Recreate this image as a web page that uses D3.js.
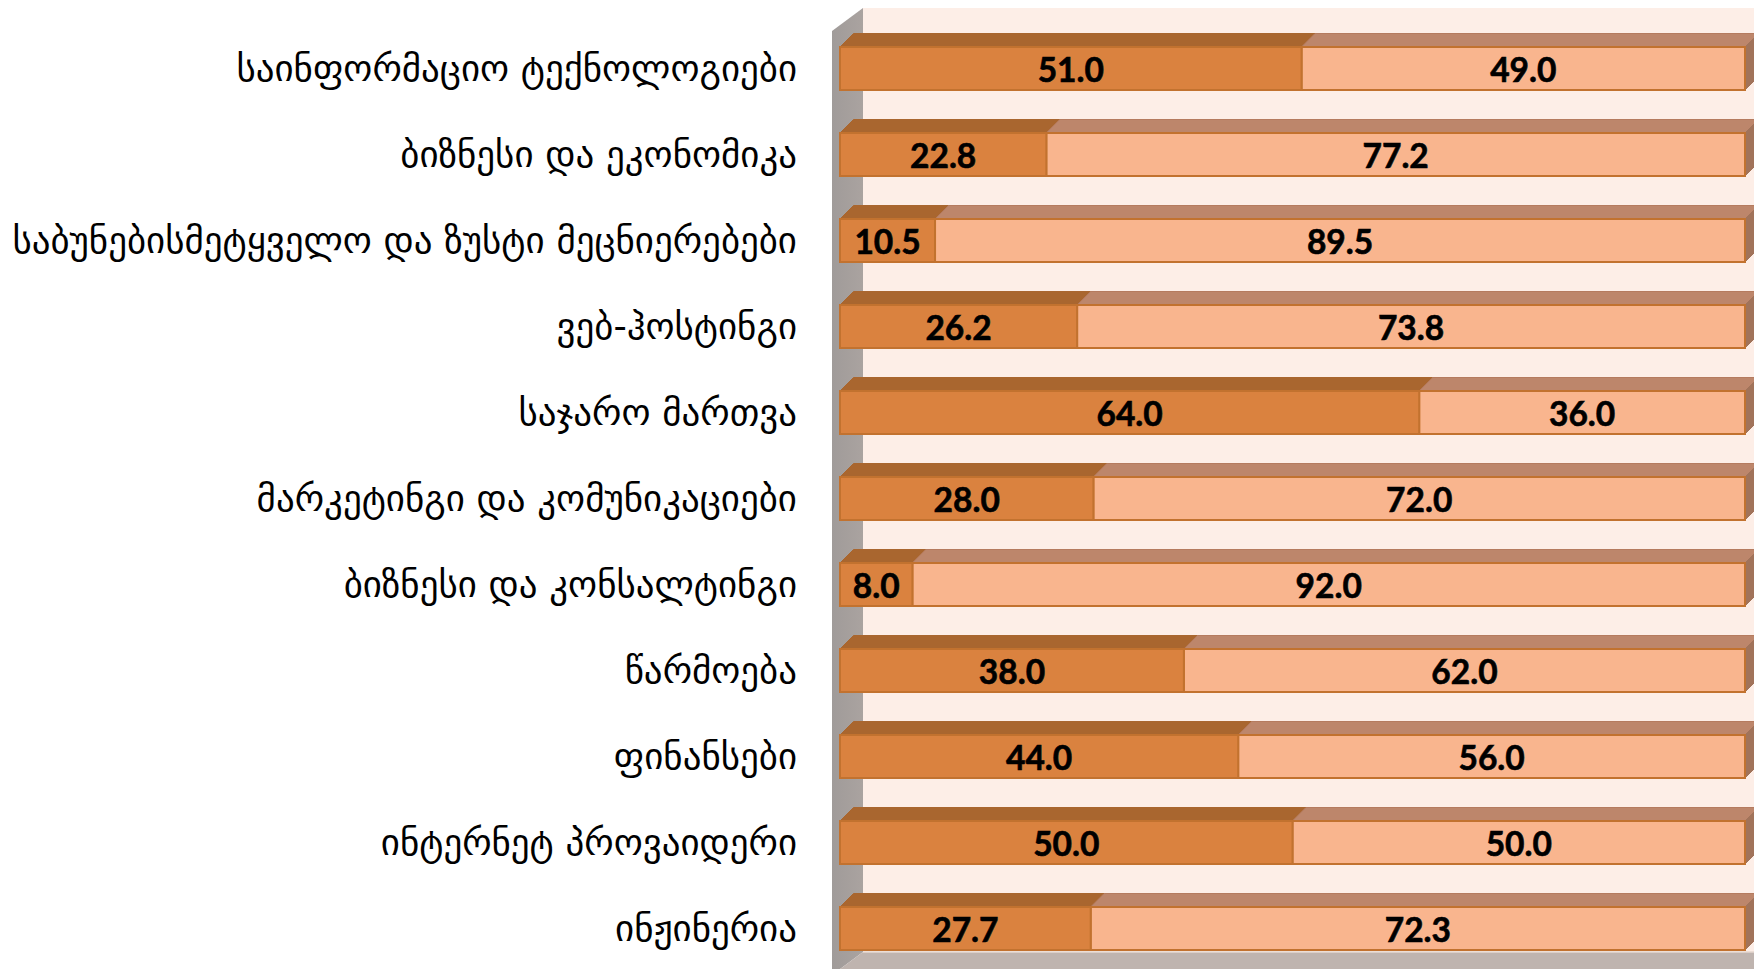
<!DOCTYPE html>
<html><head><meta charset="utf-8">
<script src="https://cdn.jsdelivr.net/npm/d3@7"></script>
<style>html,body{margin:0;padding:0;background:#fff;}svg{display:block;}</style>
</head><body>
<svg id="chart" width="1754" height="969"></svg>
<script>
const categories = [
  "საინფორმაციო ტექნოლოგიები",
  "ბიზნესი და ეკონომიკა",
  "საბუნებისმეტყველო და ზუსტი მეცნიერებები",
  "ვებ-ჰოსტინგი",
  "საჯარო მართვა",
  "მარკეტინგი და კომუნიკაციები",
  "ბიზნესი და კონსალტინგი",
  "წარმოება",
  "ფინანსები",
  "ინტერნეტ პროვაიდერი",
  "ინჟინერია"
];
const seriesA = [51.0, 22.8, 10.5, 26.2, 64.0, 28.0, 8.0, 38.0, 44.0, 50.0, 27.7];
const seriesB = [49.0, 77.2, 89.5, 73.8, 36.0, 72.0, 92.0, 62.0, 56.0, 50.0, 72.3];

const svg = d3.select("#chart");
const x = d3.scaleLinear().domain([0, 100]).range([840, 1745]);
const y = d3.scaleBand().domain(categories).range([25.5, 971.5]).paddingInner(0.5).paddingOuter(0.25);
const d = 13.5; // bar depth offset
const h = y.bandwidth();

// walls
const wallL = 832, wallBackX = 863, wallTop = 8, floorY = 952;
svg.append("polygon")
  .attr("points", `${wallBackX},${wallTop} 1754,${wallTop} 1754,${floorY} ${wallBackX},${floorY}`)
  .attr("fill", "#fdeee7");
const wg = svg.append("defs").append("linearGradient").attr("id", "wallg").attr("x1", 0).attr("x2", 1);
wg.append("stop").attr("offset", 0).attr("stop-color", "#a09b99");
wg.append("stop").attr("offset", 1).attr("stop-color", "#aaa3a0");
svg.append("polygon")
  .attr("points", `${wallL},${wallTop + 23} ${wallBackX},${wallTop} ${wallBackX},${floorY} ${wallL},${floorY + 23} ${wallL},969`)
  .attr("fill", "url(#wallg)");
svg.append("polygon")
  .attr("points", `${wallBackX},${floorY} 1754,${floorY} 1754,975 ${wallBackX - 31},975`)
  .attr("fill", "#bfb4af");
svg.append("line").attr("x1", wallBackX).attr("x2", 1754).attr("y1", floorY).attr("y2", floorY)
  .attr("stroke", "#e6d8d1").attr("stroke-width", 1.5);

const data = categories.map((c, i) => ({ c, a: seriesA[i], b: seriesB[i] }));
const g = svg.append("g");
const stroke = "#c2722f";

data.forEach(r => {
  const yt = y(r.c);
  const x0 = x(0), x1 = x(r.a), x2 = x(r.a + r.b);
  const bg = g.append("g");
  // top faces
  bg.append("polygon")
    .attr("points", `${x0},${yt} ${x0 + d},${yt - d} ${x1 + d},${yt - d} ${x1},${yt}`)
    .attr("fill", "#a9662f").attr("stroke", "#a9662f").attr("stroke-width", 1);
  bg.append("polygon")
    .attr("points", `${x1},${yt} ${x1 + d},${yt - d} ${x2 + d},${yt - d} ${x2},${yt}`)
    .attr("fill", "#bd866b").attr("stroke", "#b57b5f").attr("stroke-width", 1);
  // side face
  bg.append("polygon")
    .attr("points", `${x2},${yt} ${x2 + d},${yt - d} ${x2 + d},${yt + h - d} ${x2},${yt + h}`)
    .attr("fill", "#a1735a").attr("stroke", "#a1735a").attr("stroke-width", 1);
  // front faces
  bg.append("rect").attr("x", x1).attr("y", yt).attr("width", x2 - x1).attr("height", h)
    .attr("fill", "#f9b58e").attr("stroke", stroke).attr("stroke-width", 2);
  bg.append("rect").attr("x", x0).attr("y", yt).attr("width", x1 - x0).attr("height", h)
    .attr("fill", "#da823f").attr("stroke", stroke).attr("stroke-width", 2);
  // value labels
  [[x0, x1, r.a], [x1, x2, r.b]].forEach(([s, e, v]) => {
    bg.append("text").attr("x", (s + e) / 2).attr("y", yt + h / 2)
      .attr("text-anchor", "middle").attr("dominant-baseline", "central")
      .attr("font-family", "Lato, 'Open Sans', sans-serif").attr("font-weight", "bold")
      .attr("font-size", 33.5).attr("fill", "#000")
      .attr("stroke", "#000").attr("stroke-width", 0.6).text(d3.format(".1f")(v));
  });
});

// category labels
const labels = svg.append("g").selectAll("text").data(categories).join("text")
  .attr("x", 797).attr("y", c => y(c) + h / 2)
  .attr("text-anchor", "end").attr("dominant-baseline", "central")
  .attr("font-family", "'DejaVu Sans', sans-serif").attr("font-size", 100)
  .attr("fill", "#000").text(c => c);
let maxW = 0;
labels.each(function () { maxW = Math.max(maxW, this.getComputedTextLength()); });
labels.attr("font-size", 100 * 785 / maxW);
</script>
</body></html>
